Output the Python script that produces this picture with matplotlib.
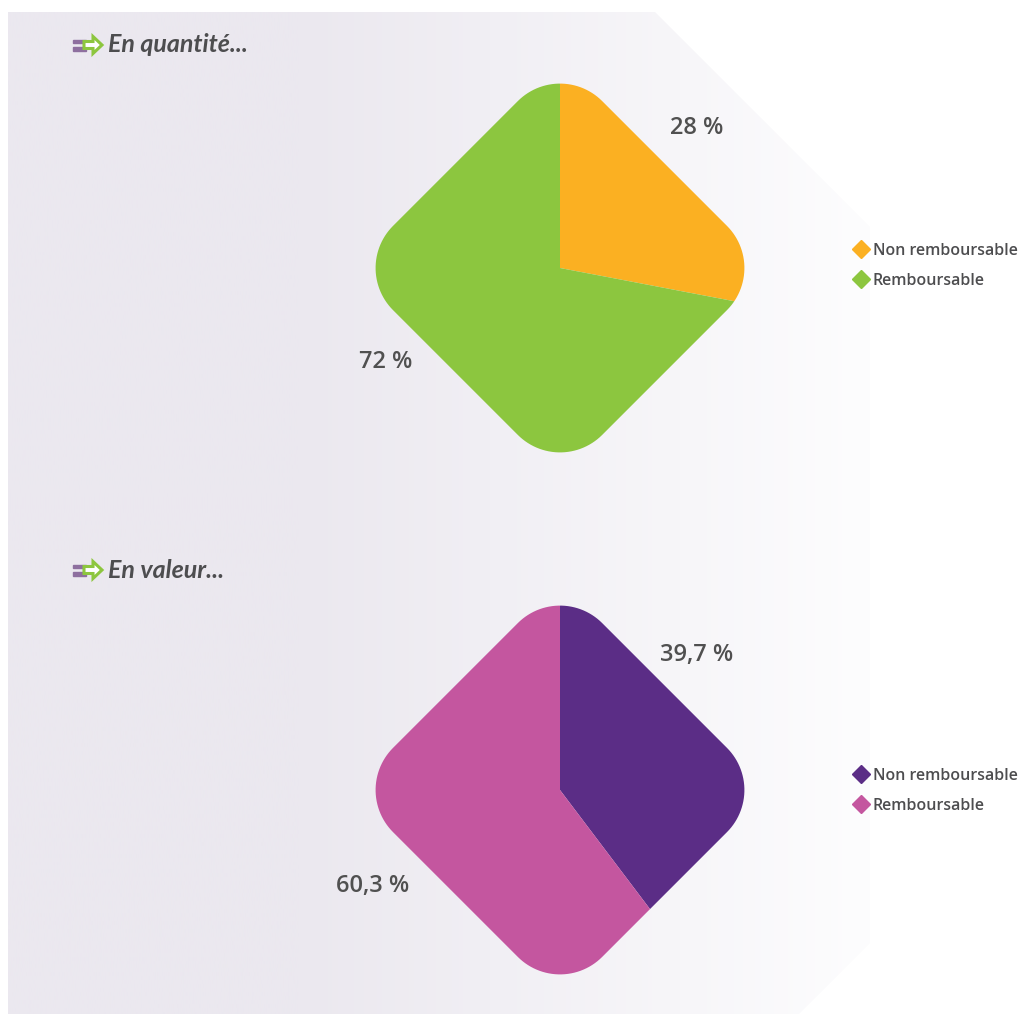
import numpy as np
import matplotlib
matplotlib.use("Agg")
import matplotlib.pyplot as plt
from matplotlib.patches import Polygon, FancyArrow, Rectangle
from matplotlib.lines import Line2D

# data
legend_labels = ["Non remboursable", "Remboursable"]
qty_values = [28, 72]
val_values = [39.7, 60.3]
qty_colors = ["#fbb022", "#8cc63f"]
val_colors = ["#5b2d86", "#c4569f"]
titles = ["En quantité...", "En valeur..."]

W, H = 1026, 1014
fig = plt.figure(figsize=(W / 100, H / 100), dpi=100)
fig.patch.set_facecolor("white")

# background panel with horizontal gradient
bg = fig.add_axes([0, 0, 1, 1])
bg.set_xlim(0, W)
bg.set_ylim(H, 0)
bg.axis("off")
xs = np.linspace(0, W, 400)
t = np.clip((xs - 300) / (870 - 300), 0, 1)
c0 = np.array([235, 232, 239]) / 255
c1 = np.array([253, 253, 254]) / 255
grad = c0[None, :] * (1 - t[:, None]) + c1[None, :] * t[:, None]
img = bg.imshow(grad[None, :, :], extent=[0, W, H, 0], aspect="auto", zorder=0)
panel = Polygon([(8, 12), (655, 12), (870, 227), (870, 943), (799, 1014), (8, 1014)],
                closed=True, transform=bg.transData, facecolor="none", edgecolor="none")
bg.add_patch(panel)
img.set_clip_path(panel)


def heading(y, text):
    bg.add_patch(Rectangle((73, y - 5.5), 13, 3.5, color="#8e6f9f", zorder=2))
    bg.add_patch(Rectangle((73, y + 2), 13, 3.5, color="#8e6f9f", zorder=2))
    bg.add_patch(FancyArrow(84, y, 9, 0, width=7, head_width=17, head_length=9,
                            length_includes_head=False, facecolor="white",
                            edgecolor="#8dc63f", lw=2.2, zorder=3))
    bg.text(108, y, text, fontsize=18, style="italic", weight="bold",
            family=["Lato", "DejaVu Sans"], color="#4d4d4f", va="center", ha="left")


heading(45, titles[0])
heading(570, titles[1])


def rounded_diamond(r=0.285, n=30):
    pts = []
    for ang in [90, 0, -90, 180]:
        a = np.deg2rad(ang)
        v = np.array([np.cos(a), np.sin(a)])
        c = v * (1 - r * np.sqrt(2))
        th = np.linspace(a + np.pi / 4, a - np.pi / 4, n)
        pts.extend(np.column_stack([c[0] + r * np.cos(th), c[1] + r * np.sin(th)]))
    return np.array(pts)


def diamond_pie(cx, cy, values, colors, label_pos):
    size = 460
    ax = fig.add_axes([(cx - size / 2) / W, 1 - (cy + size / 2) / H, size / W, size / H])
    wedges, _ = ax.pie(values, colors=colors, startangle=90, counterclock=False,
                       radius=1.5, wedgeprops=dict(linewidth=0))
    ax.set_xlim(-1.1, 1.1)
    ax.set_ylim(-1.1, 1.1)
    ax.axis("off")
    shape = Polygon(rounded_diamond(), closed=True, transform=ax.transData)
    for w in wedges:
        w.set_clip_on(True)
        w.set_clip_path(shape)
    for v, (px, py) in zip(values, label_pos):
        ax.text(px, py, f"{v:g}".replace(".", ",") + " %", fontsize=17,
                family=["Open Sans", "DejaVu Sans"], weight="semibold", color="#505050",
                ha="center", va="center")
    return ax


diamond_pie(560, 268, qty_values, qty_colors, [(0.655, 0.67), (-0.832, -0.45)])
diamond_pie(560, 790, val_values, val_colors, [(0.655, 0.646), (-0.894, -0.459)])


def add_legend(y, colors):
    handles = [Line2D([], [], marker="D", linestyle="none", markersize=9,
                      markerfacecolor=c, markeredgecolor=c) for c in colors]
    fig.legend(handles, legend_labels, loc="upper left",
               bbox_to_anchor=(855 / W, 1 - y / H), frameon=False,
               borderpad=0, borderaxespad=0, handlelength=0.8, handletextpad=0.3,
               labelspacing=0.85, prop=dict(family=["Open Sans", "DejaVu Sans"],
                                            size=11.5, weight="semibold"),
               labelcolor="#4d4d4f")


add_legend(243, qty_colors)
add_legend(768, val_colors)

fig.savefig("out.png", dpi=100)
